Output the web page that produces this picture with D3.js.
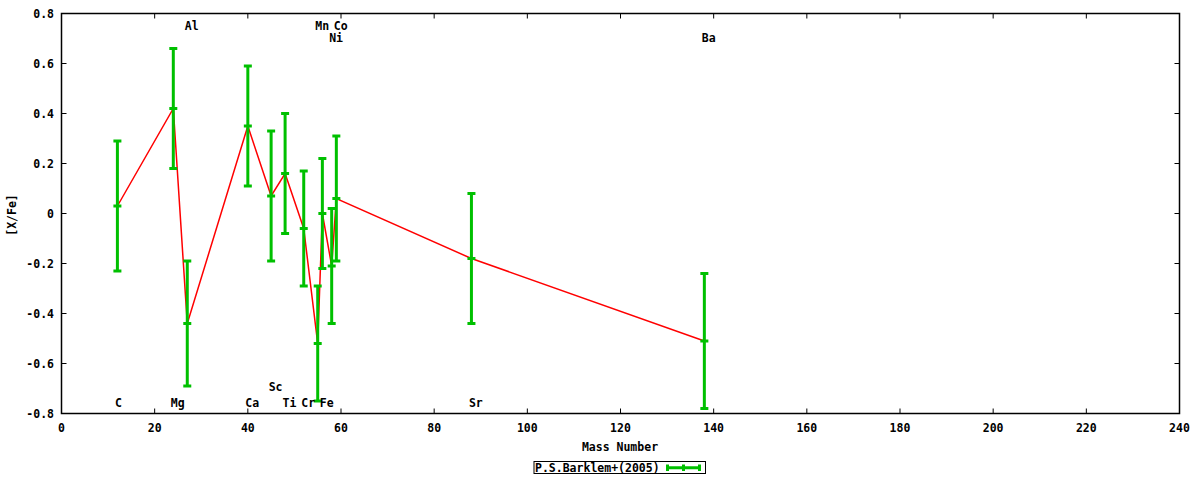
<!DOCTYPE html>
<html>
<head>
<meta charset="utf-8">
<script src="https://cdn.jsdelivr.net/npm/d3@7"></script>
<style>
  html, body { margin: 0; padding: 0; background: #fff; }
  svg text { font-family: "DejaVu Sans Mono", monospace; font-weight: bold; font-size: 11.5px; fill: #000; }
</style>
</head>
<body>
<svg id="chart" width="1200" height="480"></svg>
<script>
// ---- data ----
const elements  = ["C", "Mg", "Al", "Ca", "Sc", "Ti", "Cr", "Mn", "Fe", "Ni", "Co", "Sr", "Ba"];
const massNum   = [12, 24, 27, 40, 45, 48, 52, 55, 56, 58, 59, 88, 138];
const xFe       = [0.03, 0.42, -0.44, 0.35, 0.07, 0.16, -0.06, -0.52, 0.00, -0.21, 0.06, -0.18, -0.51];
const errLow    = [-0.23, 0.18, -0.69, 0.11, -0.19, -0.08, -0.29, -0.75, -0.22, -0.44, -0.19, -0.44, -0.78];
const errHigh   = [0.29, 0.66, -0.19, 0.59, 0.33, 0.40, 0.17, -0.29, 0.22, 0.02, 0.31, 0.08, -0.24];
const labelY    = [-0.756, -0.756, 0.752, -0.756, -0.692, -0.756, -0.756, 0.752, -0.756, 0.704, 0.752, -0.756, 0.704];
const xTicks    = [0, 20, 40, 60, 80, 100, 120, 140, 160, 180, 200, 220, 240];
const yTicks    = [-0.8, -0.6, -0.4, -0.2, 0, 0.2, 0.4, 0.6, 0.8];
const seriesName = "P.S.Barklem+(2005)";
const xTitle = "Mass Number";
const yTitle = "[X/Fe]";

// ---- layout ----
const svg = d3.select("#chart");
const L = 61.5, R = 1179.5, T = 13.5, B = 413.5;
const x = d3.scaleLinear().domain([0, 240]).range([L, R]);
const y = d3.scaleLinear().domain([-0.8, 0.8]).range([B, T]);
const green = "#00c000";

const pts = massNum.map((m, i) => ({ m, v: xFe[i], lo: errLow[i], hi: errHigh[i], name: elements[i], ly: labelY[i] }));

// ticks (inward, mirrored)
const tk = 5;
const g = svg.append("g");
xTicks.forEach(t => {
  g.append("line").attr("x1", x(t)).attr("x2", x(t)).attr("y1", B).attr("y2", B - tk).attr("stroke", "#000");
  g.append("line").attr("x1", x(t)).attr("x2", x(t)).attr("y1", T).attr("y2", T + tk).attr("stroke", "#000");
  g.append("text").attr("x", x(t)).attr("y", 432).attr("text-anchor", "middle").text(d3.format("d")(t));
});
yTicks.forEach(t => {
  g.append("line").attr("x1", L).attr("x2", L + tk).attr("y1", y(t)).attr("y2", y(t)).attr("stroke", "#000");
  g.append("line").attr("x1", R).attr("x2", R - tk).attr("y1", y(t)).attr("y2", y(t)).attr("stroke", "#000");
  g.append("text").attr("x", 54).attr("y", y(t) + 4).attr("text-anchor", "end")
    .text(t === 0 ? "0" : d3.format(".1f")(t).replace("−", "-"));
});

// connecting line
svg.append("path")
  .datum(pts)
  .attr("fill", "none")
  .attr("stroke", "#ff0000")
  .attr("stroke-width", 1.5)
  .attr("d", d3.line().x(d => x(d.m)).y(d => y(d.v)));

// error bars
const eb = svg.append("g").attr("stroke", green).attr("stroke-width", 3);
const cw = 4;
pts.forEach(d => {
  eb.append("line").attr("x1", x(d.m)).attr("x2", x(d.m)).attr("y1", y(d.lo)).attr("y2", y(d.hi));
  eb.append("line").attr("x1", x(d.m) - cw).attr("x2", x(d.m) + cw).attr("y1", y(d.lo)).attr("y2", y(d.lo));
  eb.append("line").attr("x1", x(d.m) - cw).attr("x2", x(d.m) + cw).attr("y1", y(d.hi)).attr("y2", y(d.hi));
  eb.append("line").attr("x1", x(d.m) - cw).attr("x2", x(d.m) + cw).attr("y1", y(d.v)).attr("y2", y(d.v));
});

// element labels (left-aligned near each mass number)
pts.forEach(d => {
  svg.append("text").attr("x", x(d.m) - 2.5).attr("y", y(d.ly) + 4).attr("text-anchor", "start").text(d.name);
});

// border
svg.append("rect").attr("x", L).attr("y", T).attr("width", R - L).attr("height", B - T)
  .attr("fill", "none").attr("stroke", "#000").attr("stroke-width", 1.5);

// axis titles
svg.append("text").attr("x", 620).attr("y", 451).attr("text-anchor", "middle").text(xTitle);
svg.append("text").attr("transform", "translate(16,215) rotate(-90)").attr("text-anchor", "middle").text(yTitle);

// legend
const lg = svg.append("g");
lg.append("rect").attr("x", 534).attr("y", 461.5).attr("width", 171.5).attr("height", 12)
  .attr("fill", "none").attr("stroke", "#000").attr("stroke-width", 1);
lg.append("text").attr("x", 535).attr("y", 471.5).text(seriesName);
const ls = lg.append("g").attr("stroke", green).attr("stroke-width", 3);
ls.append("line").attr("x1", 666).attr("x2", 701).attr("y1", 467.7).attr("y2", 467.7);
[667.5, 683.5, 699.5].forEach(px => ls.append("line").attr("x1", px).attr("x2", px).attr("y1", 464.5).attr("y2", 471));
</script>
</body>
</html>
